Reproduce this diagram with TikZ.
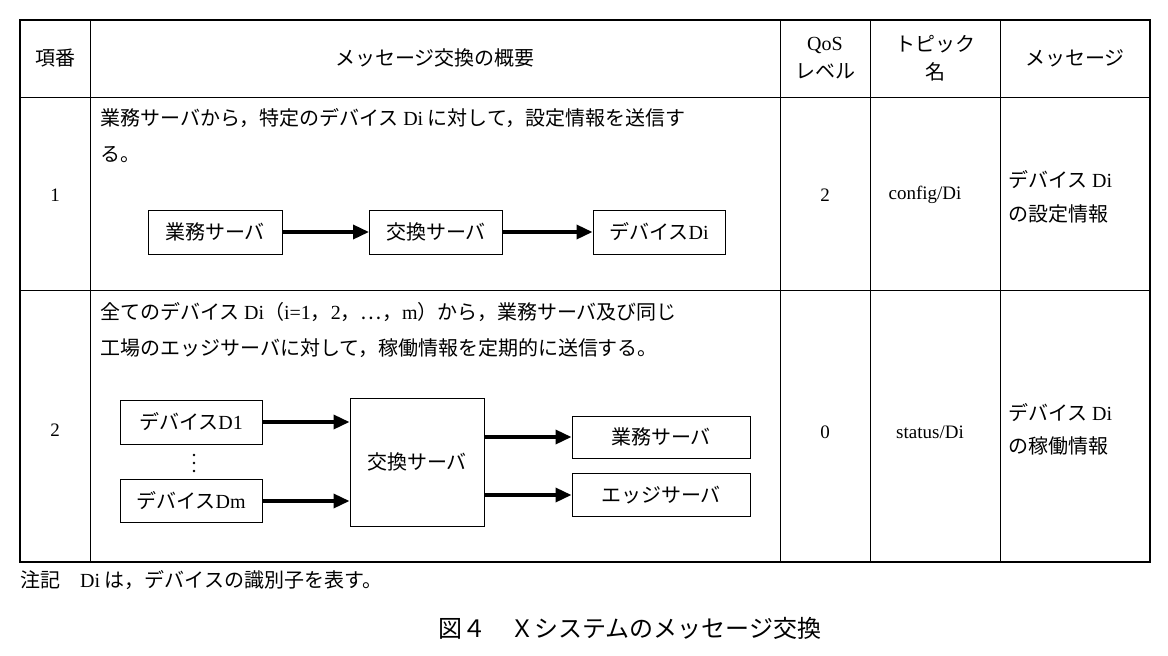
\documentclass[tikz,border=0pt]{standalone}
\usepackage{fontspec}
\setmainfont{Liberation Serif}
\newfontfamily\cjk{Noto Sans CJK JP}
\usetikzlibrary{arrows.meta}
\begin{document}
\begin{tikzpicture}[x=1pt,y=-1pt,
  every node/.style={font=\cjk\fontsize{20}{24}\selectfont,inner sep=0pt},
  bx/.style={draw,line width=1pt,minimum height=44pt},
  arr/.style={line width=3.5pt,-{Triangle[length=16pt,width=14pt]}},
  lat/.style={font=\rmfamily\fontsize{19}{22}\selectfont}]
\useasboundingbox (0,0) rectangle (1168,656);
\fill[white] (0,0) rectangle (1168,656);
\draw[line width=1.2pt] (20,20) rectangle (1150,562);
\foreach \x in {90,780,870,1000} \draw[line width=1pt] (\x,20) -- (\x,562);
\foreach \y in {97,290} \draw[line width=1pt] (20,\y) -- (1150,\y);
% header
\node (h1) at (55,58) {項番};
\node (h2) at (435,58) {メッセージ交換の概要};
\node[align=center] (h3) at (825,58) {{\rmfamily QoS}\\[4pt]レベル};
\node[align=center] (h4) at (935,58) {トピック\\[4pt]名};
\node (h5) at (1075,58) {メッセージ};
% row 1
\node[anchor=west] (t1) at (100,118) {業務サーバから，特定のデバイス {\rmfamily Di} に対して，設定情報を送信す};
\node[anchor=west] (t2) at (100,155) {る。};
\node[bx,minimum width=134pt] (a1) at (215,232) {業務サーバ};
\node[bx,minimum width=133pt] (a2) at (436,232) {交換サーバ};
\node[bx,minimum width=132pt] (a3) at (659,232) {デバイス{\rmfamily Di}};
\draw[arr] (a1) -- (a2);
\draw[arr] (a2) -- (a3);
\node[lat] (n1) at (55,195) {1};
\node[lat] (q1) at (825,195) {2};
\node[lat] (p1) at (925,195) {config/Di};
\node[anchor=west] (m1) at (1008,180) {デバイス {\rmfamily Di}};
\node[anchor=west] (m1b) at (1008,214) {の設定情報};
% row 2
\node[anchor=west] (s1) at (100,312) {全てのデバイス {\rmfamily Di}（{\rmfamily i=1}，{\rmfamily 2}，…，{\rmfamily m}）から，業務サーバ及び同じ};
\node[anchor=west] (s2) at (100,348) {工場のエッジサーバに対して，稼働情報を定期的に送信する。};
\node[bx,minimum width=142pt] (d1) at (191,422) {デバイス{\rmfamily D1}};
\coordinate (dd) at (194,463);
\foreach \dy in {-8,0,8} \fill ([yshift=\dy]dd) circle (1.3pt);
\node[bx,minimum width=142pt,minimum height=43pt] (dm) at (191,501) {デバイス{\rmfamily Dm}};
\node[bx,minimum width=134pt,minimum height=128pt] (ex) at (417,462) {交換サーバ};
\node[bx,minimum width=178pt,minimum height=42pt] (g) at (661,437) {業務サーバ};
\node[bx,minimum width=178pt,minimum height=43pt] (e) at (661,495) {エッジサーバ};
\draw[arr] (d1.east) -- (ex.west |- d1.east);
\draw[arr] (dm.east) -- (ex.west |- dm.east);
\draw[arr] (ex.east |- g.west) -- (g.west);
\draw[arr] (ex.east |- e.west) -- (e.west);
\node[lat] (n2) at (55,430) {2};
\node[lat] (q2) at (825,432) {0};
\node[lat] (p2) at (930,432) {status/Di};
\node[anchor=west] (m2) at (1008,413) {デバイス {\rmfamily Di}};
\node[anchor=west] (m2b) at (1008,446) {の稼働情報};
% notes
\node[anchor=west] (note) at (20,580) {注記\quad{\rmfamily Di} は，デバイスの識別子を表す。};
\node (cap) at (630,628) {\fontsize{24}{28}\selectfont 図４　Ｘシステムのメッセージ交換};
\end{tikzpicture}
\end{document}
